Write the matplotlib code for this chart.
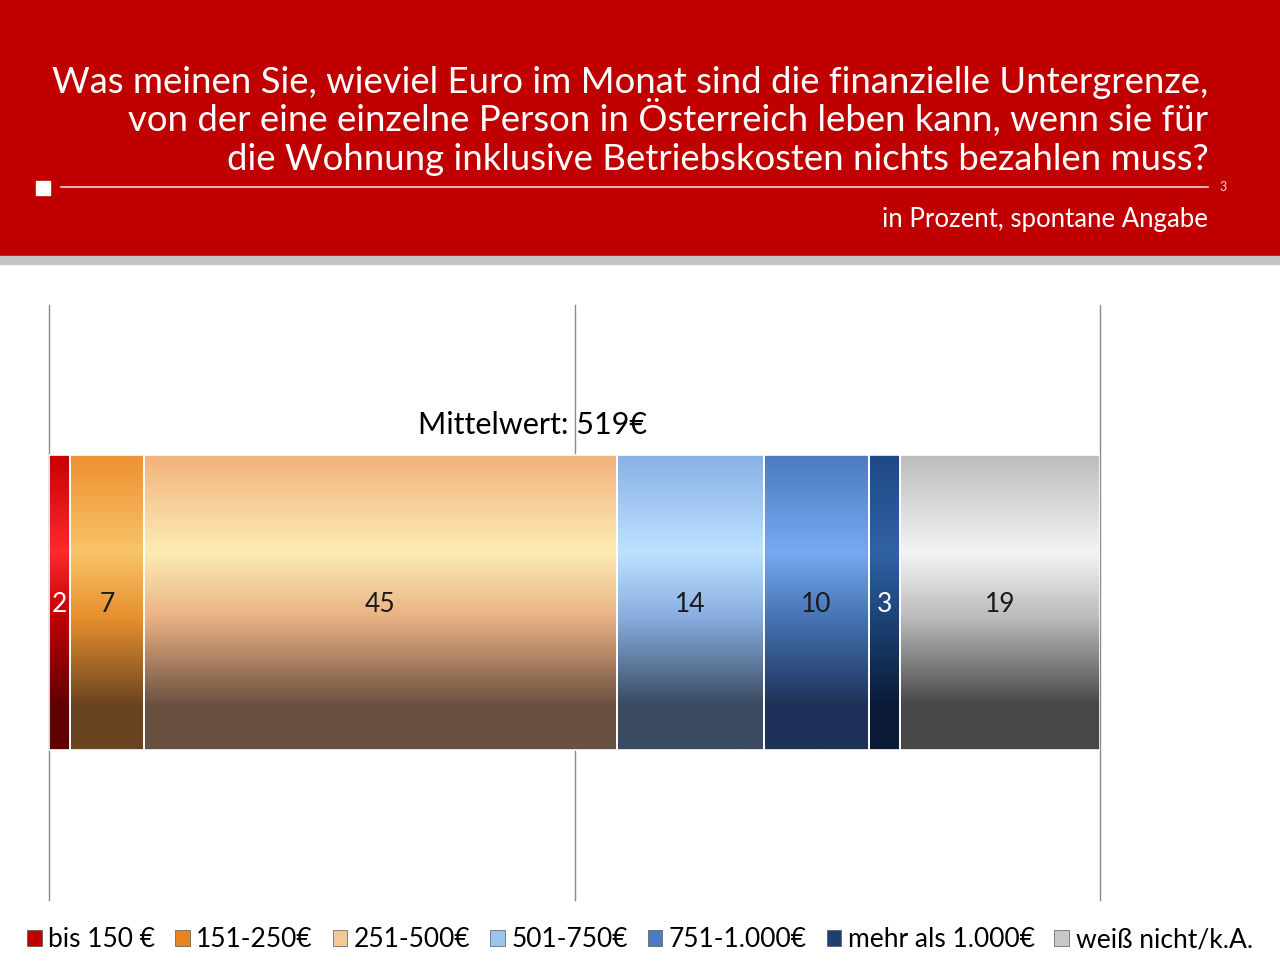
import numpy as np
import matplotlib
matplotlib.use("Agg")
import matplotlib.pyplot as plt
from matplotlib.colors import LinearSegmentedColormap, to_rgb
from matplotlib.patches import Rectangle, Patch

plt.rcParams['font.family'] = ['Lato', 'DejaVu Sans']

# data
categories = ['bis 150 €', '151-250€', '251-500€', '501-750€', '751-1.000€',
              'mehr als 1.000€', 'weiß nicht/k.A.']
values = [2, 7, 45, 14, 10, 3, 19]
label_colors = ['white', '#1a1a1a', '#1a1a1a', '#1a1a1a', '#1a1a1a', 'white', '#1a1a1a']
mean_label = 'Mittelwert: 519€'
title_lines = ['Was meinen Sie, wieviel Euro im Monat sind die finanzielle Untergrenze,',
               'von der eine einzelne Person in Österreich leben kann, wenn sie für',
               'die Wohnung inklusive Betriebskosten nichts bezahlen muss?']
subtitle = 'in Prozent, spontane Angabe'

# (top, highlight, middle, bottom) per segment
shades = [
    ('#c80000', '#ff2a2a', '#c00000', '#600000'),
    ('#ee9030', '#f8c468', '#e8902e', '#6a4420'),
    ('#f2b27c', '#fcecb4', '#eab284', '#6a5040'),
    ('#88b0e6', '#bde2ff', '#88aee0', '#3a4a60'),
    ('#4a7ac0', '#76aaf0', '#4674b4', '#1e3258'),
    ('#1e4884', '#3062a4', '#1c4478', '#0a1a36'),
    ('#bcbcbc', '#f4f4f4', '#bcbcbc', '#474747'),
]
legend_colors = ['#c00000', '#e8841c', '#f6c898', '#9cc2ee', '#4a7cc6', '#1f3f70', '#c8c8c8']

fig = plt.figure(figsize=(12.8, 9.61), dpi=100)
H = 961.0

# header band
fig.patches.append(Rectangle((0, 0.735), 1, 0.265, transform=fig.transFigure,
                             color='#c00000', zorder=0))
fig.patches.append(Rectangle((0, 0.725), 1, 0.009, transform=fig.transFigure,
                             color='#c4c4c4', zorder=0))
fig.patches.append(Rectangle((0.028, 0.797), 0.011, 0.015, transform=fig.transFigure,
                             color='white', zorder=1))
fig.add_artist(plt.Line2D([0.048, 0.944], [0.805, 0.805], transform=fig.transFigure,
                          color='#f4d0d0', lw=1.2))
for i, line in enumerate(title_lines):
    fig.text(0.944, 1 - (93 + 38.5 * i) / H, line, ha='right', va='baseline',
             color='white', fontsize=26.3)
fig.text(0.953, 0.805, '3', ha='left', va='center', color='#f4d0d0', fontsize=9)
fig.text(0.944, 1 - 227 / H, subtitle, ha='right', va='baseline', color='white',
         fontsize=18.5)

ax = fig.add_axes([0.0383, 0.0635, 0.8211, 0.6191])
ax.set_xlim(0, 100)
ax.set_ylim(0, 1)
ax.axis('off')
for gx in (0, 50, 100):
    ax.axvline(gx, color='#8a8a8a', lw=1.0, zorder=0, clip_on=False)

lefts = np.concatenate([[0], np.cumsum(values)[:-1]])
bars = ax.barh(0.5, values, left=lefts, height=0.496, color='none',
               edgecolor='white', lw=1.2, zorder=3)

for bar, sh, v, lc in zip(bars, shades, values, label_colors):
    cmap = LinearSegmentedColormap.from_list(
        'g', [(0.0, to_rgb(sh[0])), (0.33, to_rgb(sh[1])), (0.55, to_rgb(sh[2])),
              (0.85, to_rgb(sh[3])), (1.0, to_rgb(sh[3]))])
    grad = np.linspace(0, 1, 256).reshape(-1, 1)
    x0, y0 = bar.get_x(), bar.get_y()
    im = ax.imshow(grad, cmap=cmap, aspect='auto', zorder=2, origin='upper',
                   extent=[x0, x0 + bar.get_width(), y0, y0 + bar.get_height()])
    im.set_clip_path(bar)
    ax.text(x0 + bar.get_width() / 2, 0.496, str(v), ha='center', va='center',
            color=lc, fontsize=19, zorder=4)

ax.set_xlim(0, 100)
ax.set_ylim(0, 1)
ax.text(45.96, 0.798, mean_label, ha='center', va='center', fontsize=22, zorder=4)

handles = [Patch(facecolor=c, edgecolor='#555555', lw=0.5) for c in legend_colors]
fig.legend(handles, categories, loc='center', bbox_to_anchor=(0.5, 0.022), ncol=7,
           frameon=False, fontsize=19, handlelength=0.55, handleheight=0.6,
           handletextpad=0.25, columnspacing=0.75, borderaxespad=0)

fig.savefig('out.png', dpi=100)
